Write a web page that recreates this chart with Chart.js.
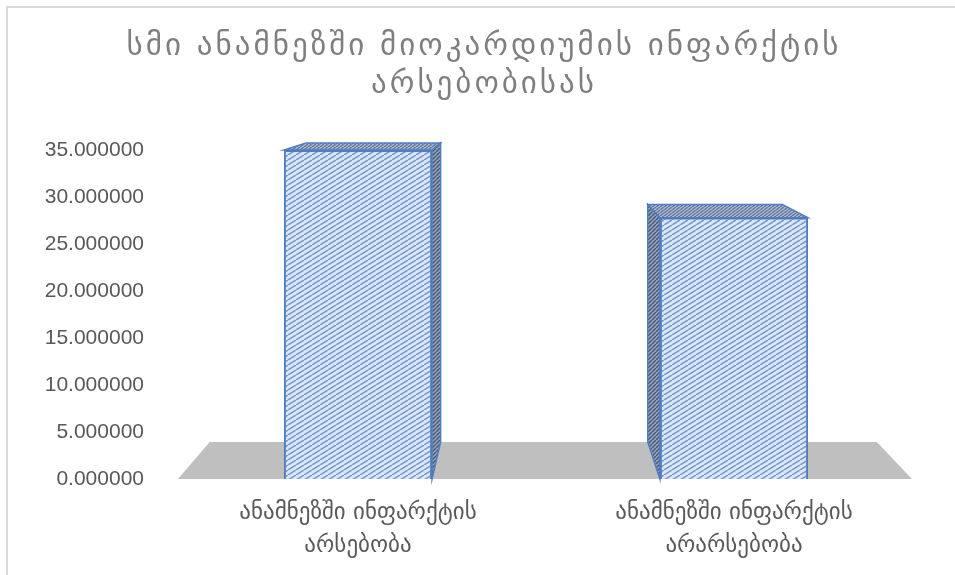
<!DOCTYPE html>
<html>
<head>
<meta charset="utf-8">
<script src="https://cdn.jsdelivr.net/npm/chart.js@4"></script>
<style>
  body { margin: 0; background: #fff; }
  canvas { display: block; }
</style>
</head>
<body>
<canvas id="c" width="955" height="575"></canvas>
<script>
var titleLines = ["სმი ანამნეზში მიოკარდიუმის ინფარქტის", "არსებობისას"];
var categories = [
  ["ანამნეზში ინფარქტის", "არსებობა"],
  ["ანამნეზში ინფარქტის", "არარსებობა"]
];
var values = [35.0, 27.8];
var yMin = 0, yMax = 35, yStep = 5;

var canvas = document.getElementById("c");
var ctx = canvas.getContext("2d");

// diagonal hatch tile turned into a repeating pattern
function hatch(bg, fg, w, h, lw) {
  var t = document.createElement("canvas");
  t.width = w; t.height = h;
  var g = t.getContext("2d");
  g.fillStyle = bg;
  g.fillRect(0, 0, w, h);
  g.strokeStyle = fg;
  g.lineWidth = lw;
  [-w, 0, w].forEach(function (dx) {
    g.beginPath();
    g.moveTo(dx, h);
    g.lineTo(dx + w, 0);
    g.stroke();
  });
  return ctx.createPattern(t, "repeat");
}

var frontFill = hatch("#dde8f7", "#7b9bd3", 8, 5, 1.6);
var sideFill = hatch("#9aa7bd", "#45587a", 4, 4, 1.5);
var topFill = hatch("#aebbd2", "#5f7398", 4, 3, 1.3);
var edgeColor = "#4f7dc0";

// pseudo 3d: back edges are pulled toward a vanishing point
var depthK = 0.909;
function proj(vp, x, y) {
  return [vp[0] + (x - vp[0]) * depthK, vp[1] + (y - vp[1]) * depthK];
}

var box3d = {
  id: "box3d",
  beforeDraw: function (chart) {
    var c = chart.ctx;
    c.save();
    c.fillStyle = "#fff";
    c.fillRect(0, 0, chart.width, chart.height);
    c.strokeStyle = "#d9d9d9";
    c.lineWidth = 2;
    c.strokeRect(7, 7, chart.width + 20, chart.height + 20);
    c.restore();
  },
  beforeDatasetsDraw: function (chart) {
    var c = chart.ctx;
    var a = chart.chartArea;
    var y0 = chart.scales.y.getPixelForValue(0);
    var vp = [(a.left + a.right) / 2 - 20, a.top - 78];

    // floor
    var fl = a.left + 8, fr = a.right - 10;
    var bl = proj(vp, fl, y0), br = proj(vp, fr, y0);
    c.save();
    c.fillStyle = "#bfbfbf";
    c.beginPath();
    c.moveTo(fl, y0);
    c.lineTo(fr, y0);
    c.lineTo(br[0], br[1]);
    c.lineTo(bl[0], bl[1]);
    c.closePath();
    c.fill();

    // side and top faces of each column
    chart.getDatasetMeta(0).data.forEach(function (bar) {
      var p = bar.getProps(["x", "y", "base", "width"], true);
      var L = p.x - p.width / 2, R = p.x + p.width / 2;
      var T = p.y, B = p.base;
      var sx = p.x < vp[0] ? R : L;
      var s1 = proj(vp, sx, T), s2 = proj(vp, sx, B);
      c.lineWidth = 1.5;
      c.strokeStyle = edgeColor;
      c.fillStyle = sideFill;
      c.beginPath();
      c.moveTo(sx, T);
      c.lineTo(sx, B);
      c.lineTo(s2[0], s2[1]);
      c.lineTo(s1[0], s1[1]);
      c.closePath();
      c.fill();
      c.stroke();

      var tl = proj(vp, L, T), tr = proj(vp, R, T);
      c.fillStyle = topFill;
      c.beginPath();
      c.moveTo(L, T);
      c.lineTo(R, T);
      c.lineTo(tr[0], tr[1]);
      c.lineTo(tl[0], tl[1]);
      c.closePath();
      c.fill();
      c.stroke();
    });
    c.restore();
  },
  afterDraw: function (chart) {
    var c = chart.ctx;
    c.save();
    c.fillStyle = "#7f7f7f";
    c.font = "31px 'DejaVu Sans'";
    c.letterSpacing = "3px";
    c.textAlign = "center";
    c.textBaseline = "middle";
    c.fillText(titleLines[0], 484, 47);
    c.fillText(titleLines[1], 484, 85);
    c.restore();
  }
};

new Chart(ctx, {
  type: "bar",
  data: {
    labels: categories,
    datasets: [{
      data: values,
      backgroundColor: frontFill,
      borderColor: edgeColor,
      borderWidth: 2,
      barPercentage: 0.394,
      categoryPercentage: 1,
      clip: false
    }]
  },
  options: {
    responsive: false,
    animation: false,
    events: [],
    layout: { padding: { top: 150, right: 33, bottom: 0, left: 0 } },
    plugins: {
      legend: { display: false },
      title: { display: false },
      tooltip: { enabled: false }
    },
    scales: {
      x: {
        grid: { display: false },
        border: { display: false },
        afterFit: function (s) { s.height = 96; },
        ticks: {
          color: "#595959",
          padding: 10,
          maxRotation: 0,
          font: { family: "'DejaVu Sans'", size: 23, lineHeight: 1.43 }
        }
      },
      y: {
        min: yMin,
        max: yMax,
        grid: { display: false },
        border: { display: false },
        afterFit: function (s) { s.width = 170; },
        ticks: {
          stepSize: yStep,
          color: "#595959",
          padding: 18,
          font: { family: "'Liberation Sans'", size: 21 },
          callback: function (v) { return v.toFixed(6); }
        }
      }
    }
  },
  plugins: [box3d]
});
</script>
</body>
</html>
